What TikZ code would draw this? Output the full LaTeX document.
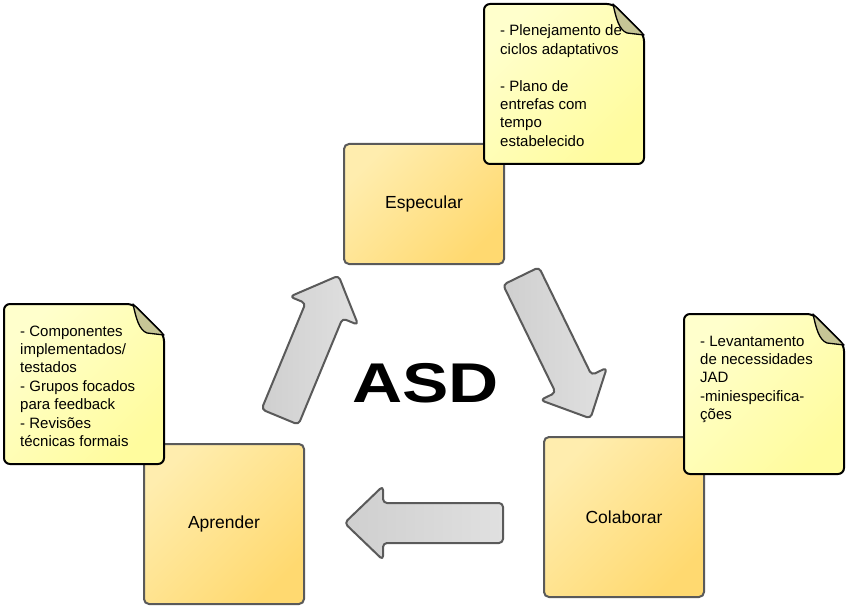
\documentclass[tikz,border=0pt]{standalone}
\usepackage{fontspec}
\setmainfont{Liberation Sans}
\definecolor{boxA}{HTML}{FFEDAE}
\definecolor{boxB}{HTML}{FFD970}
\definecolor{boxline}{HTML}{5A5A5A}
\definecolor{noteA}{HTML}{FFFFCC}
\definecolor{noteB}{HTML}{FFFC9E}
\definecolor{foldc}{HTML}{C6C596}
\definecolor{arrA}{HTML}{CFCFCF}
\definecolor{arrB}{HTML}{E0E0E0}
\tikzset{
  procbox/.style={draw=boxline, line width=2pt, rounded corners=5pt,
    top color=boxA, bottom color=boxB, shading angle=45,
    minimum width=160pt, inner sep=0pt, font=\fontsize{17.5}{21}\selectfont},
  notebody/.style={draw=black, line width=2pt, rounded corners=6pt,
    top color=noteA, bottom color=noteB, shading angle=45},
  notefold/.style={draw=black, line width=1.3pt, fill=foldc, line join=round},
  notetext/.style={anchor=base west, inner sep=0pt, font=\fontsize{15}{18.4}\selectfont},
  blockarrow/.style={draw=boxline, line width=2pt, rounded corners=4pt, line join=round,
    left color=arrA, right color=arrB},
}
\newcommand{\notepaper}[1]{%
  \begin{scope}[shift={#1}]
    \path[notebody] (0,80) -- (0,0) -- (129,0) -- (160,31) -- (160,160) -- (0,160) -- cycle;
    \path[notefold] (129,0) .. controls (132,14) and (135,26) .. (143,29) -- (160,31) -- cycle;
  \end{scope}}
\begin{document}
\begin{tikzpicture}[x=1pt,y=-1pt]
\useasboundingbox (0,0) rectangle (850,612);
\fill[white] (0,0) rectangle (850,612);

% process boxes
\node[procbox, minimum height=120pt] (especular) at (424,204) {Especular};
\node[procbox, minimum height=160pt] (colaborar) at (624,517) {Colaborar};
\node[procbox, minimum height=160pt] (aprender) at (224,524) {Aprender};

% block arrows
\begin{scope}[shift={(280,417)}, rotate=67.5]
  \path[blockarrow] (0,-20) -- (115,-20) -- (115,-37) -- (153,0) -- (115,37) -- (115,20) -- (0,20) -- cycle;
\end{scope}
\begin{scope}[shift={(521,276)}, rotate=-64]
  \path[blockarrow] (0,-20) -- (120,-20) -- (120,-37) -- (158.5,0) -- (120,37) -- (120,20) -- (0,20) -- cycle;
\end{scope}
\begin{scope}[shift={(503,523)}, rotate=180]
  \path[blockarrow] (0,-20) -- (120,-20) -- (120,-37) -- (158.5,0) -- (120,37) -- (120,20) -- (0,20) -- cycle;
\end{scope}

% centre title
\node[font=\fontsize{56}{56}\selectfont\bfseries, anchor=base, inner sep=0pt] (asd) at (425.5,402) {\scalebox{1.24}[1]{ASD}};

% notes
\notepaper{(484,4)}
\node[notetext] (note1) at (500,36) {\parbox[t]{200pt}{\raggedright
- Plenejamento de\\ciclos adaptativos\\[18.4pt]- Plano de\\entrefas com\\tempo\\estabelecido}};

\notepaper{(684,314)}
\node[notetext] (note2) at (700,346) {\parbox[t]{200pt}{\raggedright
- Levantamento\\de necessidades\\JAD\\-miniespecifica-\\ções}};

\notepaper{(4,304)}
\node[notetext] (note3) at (20,336) {\parbox[t]{200pt}{\raggedright
- Componentes\\implementados/\\testados\\- Grupos focados\\para feedback\\- Revisões\\técnicas formais}};
\end{tikzpicture}
\end{document}
